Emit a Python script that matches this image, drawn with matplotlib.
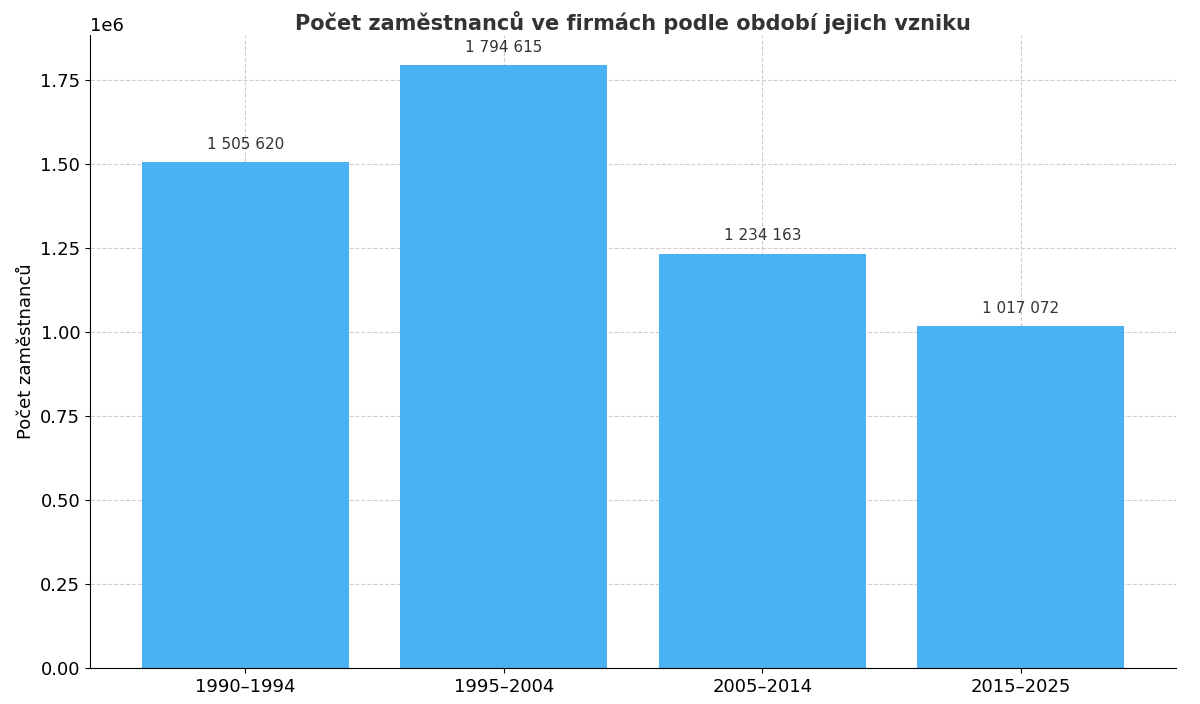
import matplotlib
matplotlib.use("Agg")
from matplotlib import pyplot as plt

periods = ["1990–1994", "1995–2004", "2005–2014", "2015–2025"]
employees = [1505620, 1794615, 1234163, 1017072]

fig, ax = plt.subplots(figsize=(12, 7.04), dpi=100)
fig.subplots_adjust(left=0.075, right=0.98, top=0.95, bottom=0.051)

bars = ax.bar(periods, employees, color="#4ab2f2", width=0.8, zorder=2)
for b, v in zip(bars, employees):
    ax.text(b.get_x() + b.get_width() / 2, v + 0.03e6,
            f"{v:,}".replace(",", " "), ha="center", va="bottom",
            fontsize=11, color="#333333")

ax.set_ylim(0, 1.884e6)
ax.set_xlim(-0.6, 3.6)
ax.grid(True, linestyle="--", color="#d0d0d0", linewidth=0.8, zorder=0)
ax.spines["top"].set_visible(False)
ax.spines["right"].set_visible(False)
ax.tick_params(labelsize=13)
ax.yaxis.get_offset_text().set_fontsize(13)
ax.set_ylabel("Počet zaměstnanců", fontsize=13)
ax.set_title("Počet zaměstnanců ve firmách podle období jejich vzniku",
             fontsize=15, fontweight="bold", color="#333333", pad=4)

plt.savefig("out.png", dpi=100)
